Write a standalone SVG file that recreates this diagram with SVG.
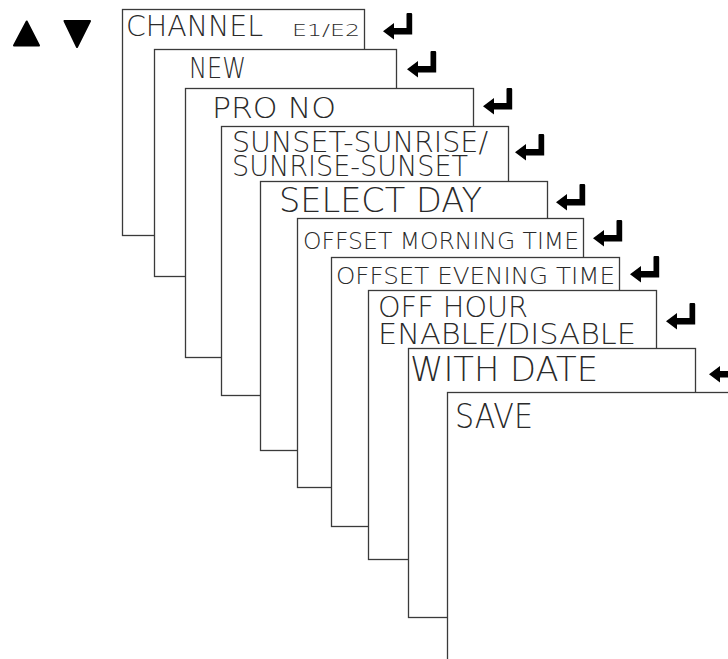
<svg xmlns="http://www.w3.org/2000/svg" xmlns:xlink="http://www.w3.org/1999/xlink" width="728" height="659" viewBox="0 0 728 659">
<style>
.box{fill:#fff;stroke:#3a3a3a;stroke-width:1.3}
.lcd{font-family:"DejaVu Sans","Liberation Sans",sans-serif;font-weight:200;fill:#2a2a2a}
.key{fill:#000}
</style>
<defs>
<symbol id="enter" viewBox="0 0 29 26" width="29" height="26" overflow="visible">
<path d="M23.5 1 Q23.5 0 24.5 0 L28 0 Q29.2 0 29.2 1.2 L29.2 21.5 L11 21.5 L11 26.5 L0 18.2 L11 10 L11 15 L23.5 15 Z"/>
</symbol>
</defs>
<rect width="728" height="659" fill="#fff"/>
<g id="nav-keys">
<path d="M26.7 21.5 L39 45.5 L14 45.5 Z" fill="#000" stroke="#000" stroke-width="2" stroke-linejoin="round"/>
<path d="M64.5 21 L90 21 L77 47 Z" fill="#000" stroke="#000" stroke-width="2" stroke-linejoin="round"/>
</g>
<g id="node-channel">
<rect class="box" x="122.5" y="9.5" width="242" height="226"/>
<text class="lcd" x="126" y="36" font-size="29" textLength="137" lengthAdjust="spacingAndGlyphs">CHANNEL</text>
<text class="lcd" x="292" y="36" font-size="15" textLength="68" lengthAdjust="spacingAndGlyphs">E1/E2</text>
</g>
<g id="node-new">
<rect class="box" x="154.5" y="49.5" width="242" height="227"/>
<text class="lcd" x="189" y="78" font-size="29" textLength="57" lengthAdjust="spacingAndGlyphs">NEW</text>
</g>
<g id="node-prono">
<rect class="box" x="185.5" y="88.5" width="288" height="269"/>
<text class="lcd" x="212" y="118" font-size="29" textLength="124" lengthAdjust="spacingAndGlyphs">PRO NO</text>
</g>
<g id="node-sunset">
<rect class="box" x="221.5" y="126.5" width="287" height="269"/>
<text class="lcd" font-size="28"><tspan x="232" y="152" textLength="256" lengthAdjust="spacingAndGlyphs">SUNSET-SUNRISE/</tspan><tspan x="232" y="176" textLength="236" lengthAdjust="spacingAndGlyphs">SUNRISE-SUNSET</tspan></text>
</g>
<g id="node-selectday">
<rect class="box" x="260.5" y="181.5" width="287" height="269"/>
<text class="lcd" x="279" y="212" font-size="33" textLength="203" lengthAdjust="spacingAndGlyphs">SELECT DAY</text>
</g>
<g id="node-morning">
<rect class="box" x="297.5" y="218.5" width="286" height="269"/>
<text class="lcd" x="303" y="249" font-size="23" textLength="276" lengthAdjust="spacingAndGlyphs">OFFSET MORNING TIME</text>
</g>
<g id="node-evening">
<rect class="box" x="331.5" y="257.5" width="288" height="269"/>
<text class="lcd" x="336" y="284" font-size="23" textLength="279" lengthAdjust="spacingAndGlyphs">OFFSET EVENING TIME</text>
</g>
<g id="node-offhour">
<rect class="box" x="368.5" y="290.5" width="288" height="269"/>
<text class="lcd" font-size="29"><tspan x="378" y="317" textLength="150" lengthAdjust="spacingAndGlyphs">OFF HOUR</tspan><tspan x="378" y="344" textLength="258" lengthAdjust="spacingAndGlyphs">ENABLE/DISABLE</tspan></text>
</g>
<g id="node-withdate">
<rect class="box" x="408.5" y="348.5" width="287" height="269"/>
<text class="lcd" x="410" y="381" font-size="33" textLength="188" lengthAdjust="spacingAndGlyphs">WITH DATE</text>
</g>
<g id="node-save">
<rect class="box" x="447.5" y="392.5" width="300" height="300"/>
<text class="lcd" x="455" y="428" font-size="34" textLength="78" lengthAdjust="spacingAndGlyphs">SAVE</text>
</g>
<g id="connectors" class="key">
<use xlink:href="#enter" x="383" y="13"/>
<use xlink:href="#enter" x="407" y="51"/>
<use xlink:href="#enter" x="483" y="88"/>
<use xlink:href="#enter" x="515" y="134"/>
<use xlink:href="#enter" x="556" y="184"/>
<use xlink:href="#enter" x="593" y="220"/>
<use xlink:href="#enter" x="630" y="256"/>
<use xlink:href="#enter" x="666" y="303"/>
<use xlink:href="#enter" x="709" y="356"/>
</g>
</svg>
